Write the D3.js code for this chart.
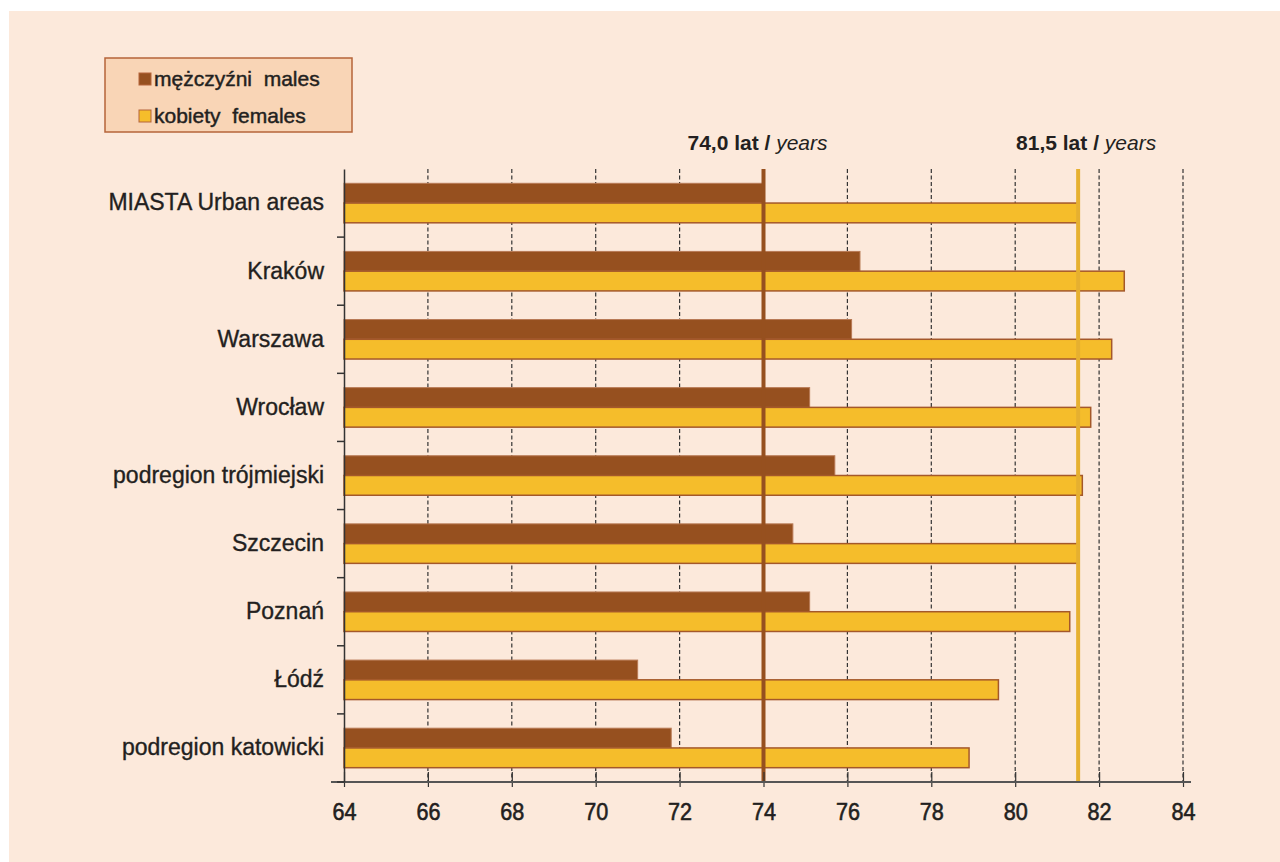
<!DOCTYPE html>
<html>
<head>
<meta charset="utf-8">
<script src="https://cdn.jsdelivr.net/npm/d3@7"></script>
<style>
  body { margin: 0; background: #ffffff; }
  text { font-family: 'Liberation Sans', Arial, sans-serif; fill: #231f20; }
</style>
</head>
<body>
<div id="graf"></div>
<script>
// dane
const regiony = ['MIASTA Urban areas', 'Kraków', 'Warszawa', 'Wrocław', 'podregion trójmiejski', 'Szczecin', 'Poznań', 'Łódź', 'podregion katowicki']
const mezczyzni = [74.0, 76.3, 76.1, 75.1, 75.7, 74.7, 75.1, 71.0, 71.8]
const kobiety = [81.5, 82.6, 82.3, 81.8, 81.6, 81.5, 81.3, 79.6, 78.9]
const ticksX = [64, 66, 68, 70, 72, 74, 76, 78, 80, 82, 84]
const srednie = [
  { wartosc: 74.0, etykieta: '74,0 lat', kolor: '#96501f', dx: -6 },
  { wartosc: 81.5, etykieta: '81,5 lat', kolor: '#e6b030', dx: 8 },
]
const legenda = [
  { nazwa: 'mężczyźni  males', kolor: '#96501f' },
  { nazwa: 'kobiety  females', kolor: '#f5bd2b' },
]

const anchoTotal = 1280
const altoTotal = 862

const svg = d3.select('#graf')
  .append('svg')
  .attr('width', anchoTotal)
  .attr('height', altoTotal)

svg.append('rect')
  .attr('x', 9).attr('y', 11)
  .attr('width', anchoTotal - 9).attr('height', altoTotal - 11)
  .attr('fill', '#fce9db')

const margin = { top: 169, left: 344, right: 97, bottom: 80 }
const ancho = anchoTotal - margin.left - margin.right
const alto = 782 - margin.top

const g = svg.append('g')
  .attr('transform', `translate(${margin.left}, ${margin.top})`)

const x = d3.scaleLinear().domain([64, 84]).range([0, ancho])
const y = d3.scaleBand().domain(regiony).range([0, alto]).paddingInner(0.42).paddingOuter(0.21)

// siatka
g.selectAll('.grid')
  .data(ticksX.slice(1))
  .join('line')
  .attr('x1', d => x(d)).attr('x2', d => x(d))
  .attr('y1', 0).attr('y2', alto)
  .attr('stroke', '#333')
  .attr('stroke-width', 1.2)
  .attr('stroke-dasharray', '4,2.5')

// slupki
const barH = y.bandwidth() / 2
g.selectAll('.m')
  .data(regiony)
  .join('rect')
  .attr('x', x(64))
  .attr('y', d => y(d))
  .attr('width', (d, i) => x(mezczyzni[i]) - x(64))
  .attr('height', barH)
  .attr('fill', '#96501f')
  .attr('stroke', '#b87a55')
  .attr('stroke-width', 1)

g.selectAll('.k')
  .data(regiony)
  .join('rect')
  .attr('x', x(64))
  .attr('y', d => y(d) + barH)
  .attr('width', (d, i) => x(kobiety[i]) - x(64))
  .attr('height', barH)
  .attr('fill', '#f5bd2b')
  .attr('stroke', '#a4582a')
  .attr('stroke-width', 1.5)

// linie srednich
srednie.forEach(s => {
  g.append('line')
    .attr('x1', x(s.wartosc)).attr('x2', x(s.wartosc))
    .attr('y1', 0).attr('y2', alto)
    .attr('stroke', s.kolor)
    .attr('stroke-width', 4)
  const t = g.append('text')
    .attr('x', x(s.wartosc) + s.dx)
    .attr('y', -19)
    .attr('text-anchor', 'middle')
    .attr('font-size', 21)
  t.append('tspan').attr('font-weight', 'bold').text(s.etykieta + ' / ')
  t.append('tspan').attr('font-style', 'italic').text('years')
})

// os X
const xAxis = g.append('g')
  .attr('transform', `translate(0, ${alto})`)
  .call(d3.axisBottom(x).tickValues(ticksX).tickSize(5).tickPadding(16))
xAxis.select('.domain').remove()
xAxis.append('line')
  .attr('x1', -13).attr('x2', ancho + 8)
  .attr('stroke', '#555').attr('stroke-width', 2)
xAxis.selectAll('.tick line').attr('stroke', '#333').attr('y1', -10).attr('stroke-width', 1.2)
xAxis.selectAll('.tick text')
  .attr('font-size', 24)
  .attr('transform', 'scale(0.9, 1)')
  .style('fill', '#231f20')
  .style('stroke', '#231f20')
  .style('stroke-width', 0.6)

// os Y
const yAxis = g.append('g')
  .call(d3.axisLeft(y).tickSize(0).tickPadding(20))
yAxis.select('.domain').attr('stroke', '#333').attr('stroke-width', 1.5)
yAxis.selectAll('.tick text')
  .attr('font-size', 23)
  .style('fill', '#231f20')
  .style('stroke', '#231f20')
  .style('stroke-width', 0.35)

// kreski miedzy kategoriami
g.selectAll('.ytick')
  .data(d3.range(1, regiony.length + 1))
  .join('line')
  .attr('x1', -7).attr('x2', 0)
  .attr('y1', d => d * y.step()).attr('y2', d => d * y.step())
  .attr('stroke', '#333').attr('stroke-width', 1.5)

// legenda
const leg = svg.append('g').attr('transform', 'translate(105, 58)')
leg.append('rect')
  .attr('width', 247).attr('height', 74)
  .attr('fill', '#f9d5b6')
  .attr('stroke', '#b5643a')
  .attr('stroke-width', 1.5)
leg.selectAll('.it')
  .data(legenda)
  .join('g')
  .attr('transform', (d, i) => `translate(34, ${15 + i * 37})`)
  .each(function (d) {
    const it = d3.select(this)
    it.append('rect')
      .attr('width', 12).attr('height', 12)
      .attr('fill', d.kolor)
      .attr('stroke', '#b5643a')
    it.append('text')
      .attr('x', 15).attr('y', 13)
      .attr('font-size', 21)
      .attr('xml:space', 'preserve')
      .style('white-space', 'pre')
      .style('stroke', '#231f20')
      .style('stroke-width', 0.45)
      .text(d.nazwa)
  })
</script>
</body>
</html>
